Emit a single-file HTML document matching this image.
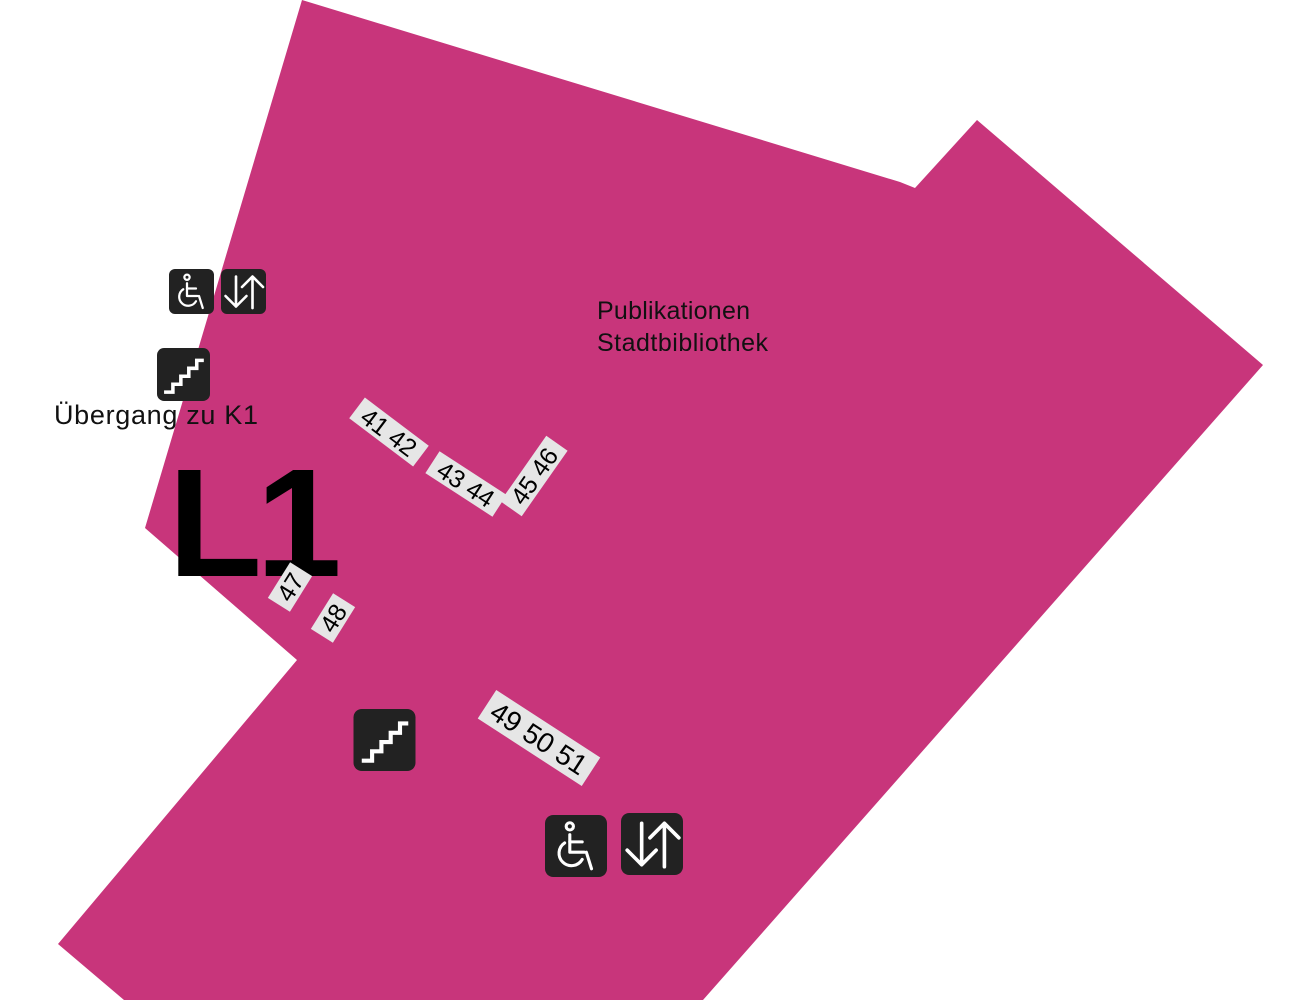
<!DOCTYPE html>
<html><head><meta charset="utf-8"><style>html,body{margin:0;padding:0;background:#fff;width:1296px;height:1000px;overflow:hidden}</style></head>
<body>
<svg width="1296" height="1000" viewBox="0 0 1296 1000" xmlns="http://www.w3.org/2000/svg" font-family="Liberation Sans, sans-serif">
<defs>
<symbol id="wc" viewBox="0 0 60 60">
<rect x="0" y="0" width="60" height="60" rx="8" fill="#222"/>
<g fill="none" stroke="#fff" stroke-width="3" stroke-linecap="round" stroke-linejoin="round">
<circle cx="24" cy="11" r="3.5"/>
<path d="M24 19 L24 36 L38 36"/>
<path d="M24 26 L36 26"/>
<path d="M19 27 A12 12 0 1 0 36 43"/>
<path d="M40 36 L45 52"/>
</g>
</symbol>
<symbol id="ar" viewBox="0 0 60 60">
<rect x="0" y="0" width="60" height="60" rx="8" fill="#222"/>
<g fill="none" stroke="#fff" stroke-width="3.5" stroke-linecap="round" stroke-linejoin="round">
<path d="M20 10 L20 50 M6 36 L20 50 L34 36"/>
<path d="M42 52 L42 10 M28 24 L42 10 L56 24"/>
</g>
</symbol>
<symbol id="st" viewBox="0 0 60 60">
<rect x="0" y="0" width="60" height="60" rx="8" fill="#222"/>
<path d="M8 50 L18 50 L18 41 L27 41 L27 32 L36 32 L36 23 L45 23 L45 14 L53 14" fill="none" stroke="#fff" stroke-width="4"/>
</symbol>
</defs>
<polygon points="302,0 900,182 915,188 977,120 1263,365 703,1000 124,1000 58,944 297,660 145,528" fill="#c8357b"/>
<use href="#wc" x="169" y="269" width="45" height="45"/>
<use href="#ar" x="221" y="269" width="45" height="45"/>
<use href="#st" x="157" y="348" width="53" height="53"/>
<use href="#st" x="353" y="709" width="63" height="62"/>
<use href="#wc" x="545" y="815" width="62" height="62"/>
<use href="#ar" x="621" y="813" width="62" height="62"/>
<text x="597" y="319" font-size="25" fill="#111" textLength="153">Publikationen</text>
<text x="597" y="351" font-size="25" fill="#111" textLength="171">Stadtbibliothek</text>
<text x="54" y="424" font-size="27" fill="#111" textLength="204">Übergang zu K1</text>
<text x="168" y="576" font-size="154" font-weight="bold" fill="#000" letter-spacing="-6">L1</text>
<g font-size="25" fill="#000" text-anchor="middle">
<g transform="translate(389,432) rotate(37)"><rect x="-40" y="-13" width="80" height="26" fill="#e6e6e6"/><text y="9">41 42</text></g>
<g transform="translate(466,484) rotate(33)"><rect x="-40" y="-13" width="80" height="26" fill="#e6e6e6"/><text y="9">43 44</text></g>
<g transform="translate(534,476) rotate(-55)"><rect x="-40" y="-13" width="80" height="26" fill="#e6e6e6"/><text y="9">45 46</text></g>
<g transform="translate(290,587) rotate(-58)"><rect x="-21" y="-13" width="42" height="26" fill="#e6e6e6"/><text y="9">47</text></g>
<g transform="translate(333,618) rotate(-58)"><rect x="-21" y="-13" width="42" height="26" fill="#e6e6e6"/><text y="9">48</text></g>
<g transform="translate(539,738) rotate(33)" font-size="28"><rect x="-62" y="-17" width="124" height="34" fill="#e6e6e6"/><text y="10">49 50 51</text></g>
</g>
</svg>
</body></html>
